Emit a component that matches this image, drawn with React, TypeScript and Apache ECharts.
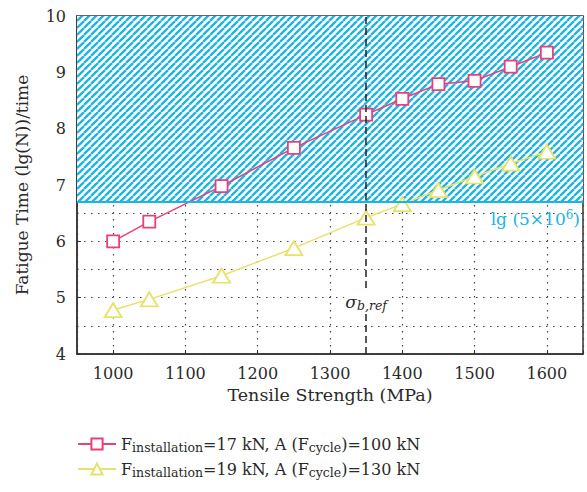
import React, { useEffect, useRef } from "react";
import * as echarts from "echarts";

const strengths = [1000, 1050, 1150, 1250, 1350, 1400, 1450, 1500, 1550, 1600];
const fatigue17 = [6.0, 6.35, 6.98, 7.66, 8.25, 8.53, 8.79, 8.85, 9.1, 9.35];
const fatigue19 = [4.78, 4.97, 5.39, 5.88, 6.42, 6.66, 6.91, 7.15, 7.38, 7.59];
const thresholdLg = 6.7; // lg(5x10^6)
const refStrength = 1350;
const sigmaLabelY = 4.92;
const seriesNames = ["F17", "F19"];
const legendTexts: Record<string, string> = {
  F17: "{n|F}{s|installation}{n|=17 kN, A (F}{s|cycle}{n|)=100 kN}",
  F19: "{n|F}{s|installation}{n|=19 kN, A (F}{s|cycle}{n|)=130 kN}",
};

const SERIF = "DejaVu Serif";
const PINK = "#e8407a";
const YELLOW = "#e6e26a";
const CYAN = "#1db3e3";
const DARK = "#333";
const TEXT = "#2a2a2a";

function makeHatch(): HTMLCanvasElement {
  const s = 7;
  const c = document.createElement("canvas");
  c.width = s;
  c.height = s;
  const ctx = c.getContext("2d")!;
  ctx.fillStyle = "#ffffff";
  ctx.fillRect(0, 0, s, s);
  ctx.strokeStyle = CYAN;
  ctx.lineWidth = 2.3;
  for (let k = -1; k <= 1; k++) {
    ctx.beginPath();
    ctx.moveTo(k * s, s);
    ctx.lineTo(k * s + s, 0);
    ctx.stroke();
  }
  return c;
}

export default function App() {
  const ref = useRef<HTMLDivElement>(null);
  useEffect(() => {
    const chart = echarts.init(ref.current!, null, { renderer: "svg" });
    const dotted = { color: "#444", width: 1.2, type: [1.5, 5.5] as any };
    chart.setOption({
      animation: false,
      grid: {
        left: 77,
        right: 4,
        top: 16,
        bottom: 138,
        show: true,
        borderColor: DARK,
        borderWidth: 1.5,
        backgroundColor: "transparent",
      },
      xAxis: {
        type: "value",
        min: 950,
        max: 1650,
        splitNumber: 7,
        name: "Tensile Strength (MPa)",
        nameLocation: "middle",
        nameGap: 24,
        nameTextStyle: { fontFamily: SERIF, fontSize: 17.5, color: TEXT },
        axisLine: { show: true, lineStyle: { color: DARK, width: 1.5 } },
        axisTick: { show: true, inside: true, length: 4, lineStyle: { color: DARK } },
        axisLabel: {
          fontFamily: SERIF,
          fontSize: 16,
          color: TEXT,
          margin: 11,
          formatter: (v: number) => (v % 100 === 0 ? String(v) : ""),
        },
        splitLine: { show: true, lineStyle: dotted },
      },
      yAxis: {
        type: "value",
        min: 4,
        max: 10,
        interval: 1,
        name: "Fatigue Time (lg(N))/time",
        nameLocation: "middle",
        nameGap: 47,
        nameTextStyle: { fontFamily: SERIF, fontSize: 17, color: TEXT },
        axisLine: { show: true, lineStyle: { color: DARK, width: 1.5 } },
        axisTick: { show: true, inside: true, length: 4, lineStyle: { color: DARK } },
        axisLabel: { fontFamily: SERIF, fontSize: 16, color: TEXT, margin: 11 },
        splitLine: { show: true, lineStyle: dotted },
        minorTick: { show: false, splitNumber: 2 },
        minorSplitLine: { show: true, lineStyle: dotted },
      },
      legend: {
        data: seriesNames,
        orient: "vertical",
        left: 72,
        top: 431,
        itemGap: 7,
        itemWidth: 38,
        itemHeight: 14,
        formatter: (name: string) => legendTexts[name],
        textStyle: {
          fontFamily: SERIF,
          color: TEXT,
          rich: {
            n: { fontFamily: SERIF, fontSize: 16, color: TEXT, lineHeight: 20 },
            s: {
              fontFamily: SERIF,
              fontSize: 12.5,
              color: TEXT,
              lineHeight: 12,
              verticalAlign: "bottom",
            },
          },
        },
      },
      series: [
        {
          name: "hatch",
          type: "line",
          data: [],
          z: -1,
          silent: true,
          markArea: {
            silent: true,
            itemStyle: { color: { image: makeHatch(), repeat: "repeat" } as any },
            data: [[{ yAxis: thresholdLg }, { yAxis: 10 }]],
          },
          markLine: {
            silent: true,
            symbol: "none",
            data: [
              {
                yAxis: thresholdLg,
                lineStyle: { color: CYAN, width: 2, type: "solid" },
                label: {
                  show: true,
                  position: "insideEndBottom",
                  formatter: "{n|lg (5×10}{p|6}{n|)}",
                  color: CYAN,
                  distance: [3, 7],
                  rich: {
                    n: { fontFamily: SERIF, fontSize: 17, color: CYAN, lineHeight: 20 },
                    p: {
                      fontFamily: SERIF,
                      fontSize: 12,
                      color: CYAN,
                      lineHeight: 12,
                      verticalAlign: "top",
                    },
                  },
                },
              },
              {
                xAxis: refStrength,
                lineStyle: { color: "#222", width: 1.5, type: [7, 4] },
                label: { show: false },
              },
            ],
          },
        },
        {
          name: "sigma",
          type: "line",
          data: [],
          z: 1,
          silent: true,
          markPoint: {
            silent: true,
            symbol: "circle",
            symbolSize: 1,
            itemStyle: { color: "transparent" },
            data: [{ coord: [refStrength, sigmaLabelY] }],
            label: {
              show: true,
              position: "inside",
              formatter: "{g|σ}{s|b,ref}",
              backgroundColor: "#fff",
              padding: [1, 1, 1, 1],
              rich: {
                g: { fontFamily: SERIF, fontStyle: "italic", fontSize: 17, color: TEXT, lineHeight: 20 },
                s: {
                  fontFamily: SERIF,
                  fontStyle: "italic",
                  fontSize: 12.5,
                  color: TEXT,
                  lineHeight: 13,
                  verticalAlign: "bottom",
                },
              },
            },
          },
        },
        {
          name: "F17",
          type: "line",
          data: strengths.map((x, i) => [x, fatigue17[i]]),
          symbol: "rect",
          symbolSize: 12,
          lineStyle: { color: PINK, width: 1.5 },
          itemStyle: { color: "#fff", borderColor: PINK, borderWidth: 1.8 },
          color: PINK,
          z: 3,
        },
        {
          name: "F19",
          type: "line",
          data: strengths.map((x, i) => [x, fatigue19[i]]),
          symbol: "triangle",
          symbolSize: [17, 14],
          lineStyle: { color: YELLOW, width: 1.5 },
          itemStyle: { color: "#fff", borderColor: YELLOW, borderWidth: 1.8 },
          color: YELLOW,
          z: 3,
        },
      ],
    });
    return () => chart.dispose();
  }, []);
  return (
    <div
      ref={ref}
      style={{ position: "fixed", left: 0, top: 0, width: 587, height: 492, background: "#fff" }}
    />
  );
}
